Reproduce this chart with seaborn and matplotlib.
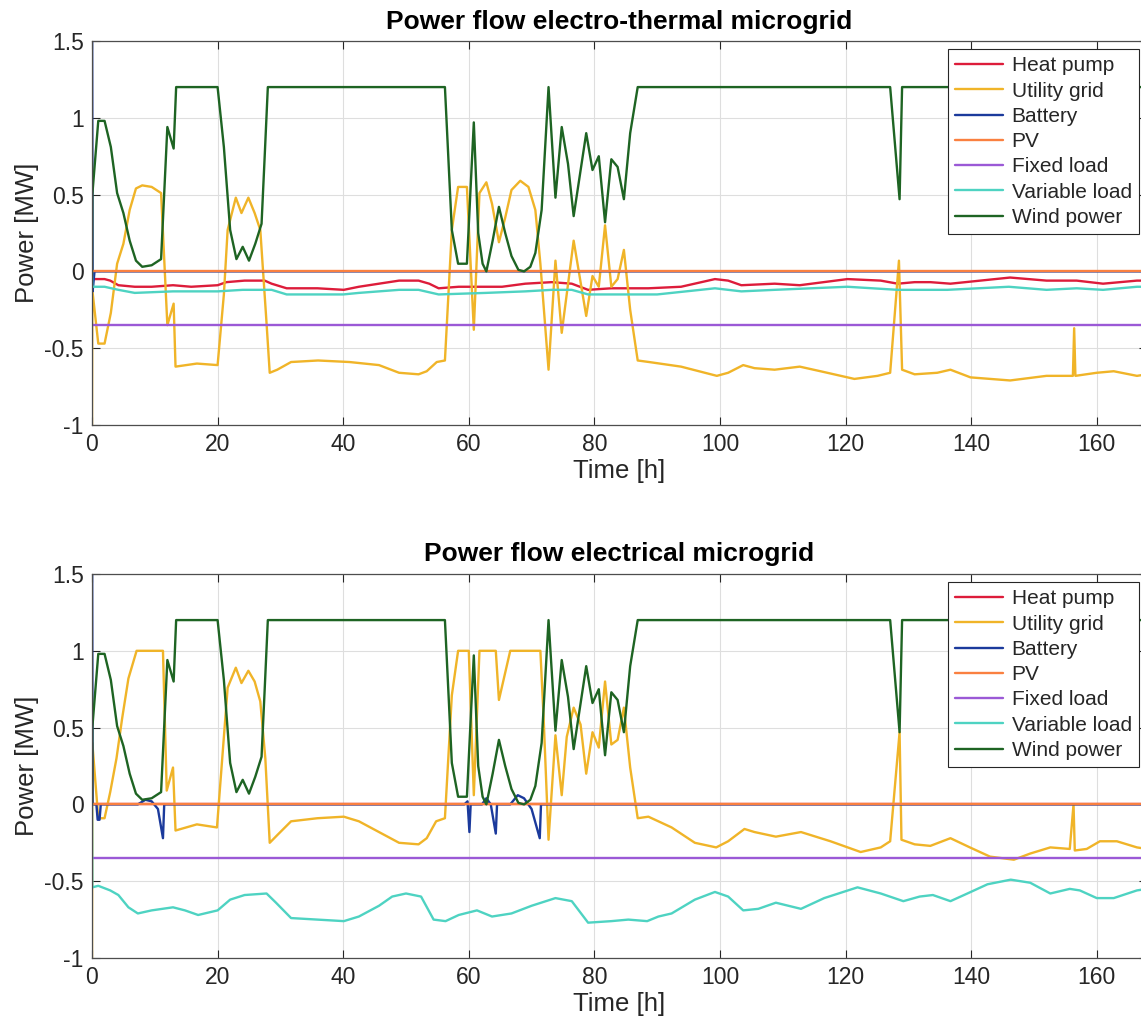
import matplotlib
matplotlib.use("Agg")
import matplotlib.pyplot as plt
import seaborn as sns
import pandas as pd

# ---------------- data (time [h], power [MW]) ----------------
WIND = [(0, 0), (0.05, 0.5), (1, 0.98), (2, 0.98), (3, 0.81), (4, 0.51), (5, 0.38), (6, 0.2),
        (7, 0.07), (8, 0.03), (9.5, 0.04), (11, 0.08), (12, 0.94), (13, 0.80), (13.4, 1.2),
        (20, 1.2), (21, 0.81), (22, 0.27), (23, 0.08), (24, 0.16), (25, 0.07), (26, 0.18),
        (27, 0.31), (27.5, 0.75), (28, 1.2), (56.2, 1.2), (57.3, 0.27), (58.3, 0.05),
        (59.7, 0.05), (60.8, 0.97), (61.5, 0.25), (62.2, 0.05), (62.8, 0.0), (63.8, 0.2),
        (64.8, 0.42), (65.8, 0.25), (66.8, 0.1), (67.9, 0.01), (68.8, 0.0), (69.8, 0.03),
        (70.6, 0.12), (71.6, 0.4), (72.7, 1.2), (73.8, 0.48), (74.8, 0.94), (75.8, 0.7),
        (76.7, 0.36), (78.7, 0.9), (79.7, 0.66), (80.7, 0.75), (81.7, 0.32), (82.7, 0.73),
        (83.7, 0.68), (84.7, 0.47), (85.7, 0.9), (86.9, 1.2), (127.1, 1.2), (128.6, 0.47),
        (129, 1.2), (168, 1.2)]

GRID_ET = [(0, -1), (0.05, -0.12), (1, -0.47), (2, -0.47), (3, -0.27), (4, 0.05), (5, 0.18),
           (6, 0.4), (7, 0.54), (8, 0.56), (9.5, 0.55), (11, 0.51), (12, -0.35), (13, -0.21),
           (13.3, -0.62), (16.7, -0.6), (20, -0.61), (21, -0.15), (21.6, 0.27), (22.9, 0.48),
           (23.8, 0.38), (24.9, 0.48), (25.9, 0.38), (26.8, 0.27), (27.8, -0.34), (28.3, -0.66),
           (29.5, -0.64), (31.7, -0.59), (36, -0.58), (41, -0.59), (45.7, -0.61), (48.9, -0.66),
           (52, -0.67), (53.3, -0.65), (54.9, -0.59), (56.2, -0.58), (57.3, 0.27), (58.3, 0.55),
           (59.7, 0.55), (60.8, -0.38), (61.7, 0.51), (62.8, 0.58), (63.7, 0.44), (64.8, 0.19),
           (65.8, 0.35), (66.8, 0.53), (68.2, 0.59), (69.5, 0.55), (70.6, 0.4), (71.4, 0.05),
           (72.7, -0.64), (73.8, 0.07), (74.8, -0.4), (76.7, 0.2), (78.7, -0.29), (79.7, -0.03),
           (80.7, -0.1), (81.7, 0.3), (82.7, -0.1), (83.7, -0.05), (84.7, 0.14), (85.7, -0.25),
           (86.9, -0.58), (88.7, -0.59), (93.8, -0.62), (99.5, -0.68), (101.3, -0.66),
           (103.7, -0.61), (105.5, -0.63), (108.7, -0.64), (112.7, -0.62), (116, -0.65),
           (121.4, -0.70), (125.1, -0.68), (127.1, -0.66), (128.5, 0.07), (129, -0.64),
           (131, -0.67), (134.6, -0.66), (136.7, -0.64), (139.9, -0.69), (146.2, -0.71),
           (152, -0.68), (156.2, -0.68), (156.4, -0.37), (156.6, -0.68), (160, -0.66),
           (162.7, -0.65), (166.4, -0.68), (168, -0.67)]

HEATPUMP_ET = [(0, -0.05), (2, -0.05), (2.9, -0.06), (4.2, -0.09), (6.8, -0.1), (9.5, -0.1),
               (12.9, -0.09), (15.8, -0.1), (20, -0.09), (21.4, -0.07), (24.3, -0.06),
               (27.5, -0.06), (28.6, -0.08), (31, -0.11), (35.9, -0.11), (40.1, -0.12),
               (42.5, -0.1), (45.7, -0.08), (48.9, -0.06), (52, -0.06), (53.7, -0.08),
               (55.2, -0.11), (58.4, -0.1), (62.7, -0.1), (65.3, -0.1), (69, -0.08),
               (73.2, -0.07), (76.4, -0.08), (79, -0.12), (82.7, -0.11), (88.6, -0.11),
               (93.8, -0.1), (99.2, -0.05), (101.3, -0.06), (103.4, -0.09), (108.7, -0.08),
               (112.7, -0.09), (120.3, -0.05), (125.6, -0.06), (128.3, -0.08), (131, -0.07),
               (133.5, -0.07), (136.7, -0.08), (146.2, -0.04), (152, -0.06), (156.8, -0.06),
               (161, -0.08), (166.4, -0.06), (168, -0.06)]

VARLOAD_ET = [(0, 0), (0.05, -0.1), (2, -0.1), (4.2, -0.12), (6.8, -0.14), (12.9, -0.13),
              (20, -0.13), (24, -0.12), (28.6, -0.12), (31, -0.15), (40, -0.15), (42.5, -0.14),
              (48.9, -0.12), (52, -0.12), (55.2, -0.15), (62.7, -0.14), (69, -0.13),
              (73.2, -0.12), (76.4, -0.12), (79, -0.15), (90, -0.15), (99.2, -0.11),
              (103.4, -0.13), (108.7, -0.12), (120.3, -0.1), (128.3, -0.12), (136.2, -0.12),
              (146, -0.1), (152, -0.12), (156.8, -0.11), (161, -0.12), (166.4, -0.1), (168, -0.1)]

BATTERY_ET = [(0, 2.0), (0.1, -0.13), (0.4, 0), (168, 0)]

GRID_EL = [(0, -1), (0.05, 0.4), (1, -0.09), (2, -0.09), (2.9, 0.08), (3.9, 0.3), (4.8, 0.56),
           (5.8, 0.82), (7.1, 1.0), (11.3, 1.0), (11.9, 0.09), (12.9, 0.24), (13.3, -0.17),
           (16.7, -0.13), (19.9, -0.15), (21.6, 0.76), (22.9, 0.89), (23.8, 0.79), (24.9, 0.87),
           (25.9, 0.8), (26.8, 0.67), (27.6, 0.3), (28.3, -0.25), (29.5, -0.2), (31.7, -0.11),
           (35.9, -0.09), (40.1, -0.08), (42.5, -0.11), (45.7, -0.18), (48.9, -0.25),
           (52, -0.26), (53.3, -0.22), (54.8, -0.11), (56.2, -0.09), (57.3, 0.71), (58.3, 1.0),
           (60, 1.0), (60.8, 0.06), (61.7, 1.0), (64.3, 1.0), (64.8, 0.68), (66.6, 1.0),
           (71.4, 1.0), (71.9, 0.58), (72.7, -0.23), (73.8, 0.45), (74.8, 0.06), (75.6, 0.44),
           (76.7, 0.63), (77.8, 0.52), (78.7, 0.2), (79.7, 0.47), (80.7, 0.37), (81.7, 0.8),
           (82.7, 0.39), (83.7, 0.42), (84.7, 0.63), (85.7, 0.24), (86.9, -0.09), (88.6, -0.08),
           (92.3, -0.15), (96, -0.25), (99.4, -0.28), (101.3, -0.24), (103.9, -0.16),
           (105.5, -0.18), (108.9, -0.21), (112.9, -0.18), (117.6, -0.24), (122.4, -0.31),
           (125.6, -0.28), (127.1, -0.24), (128.6, 0.47), (128.9, -0.23), (131, -0.26),
           (133.5, -0.27), (136.7, -0.22), (139.8, -0.28), (143, -0.34), (146.8, -0.36),
           (149.4, -0.32), (152.6, -0.28), (155.7, -0.29), (156.3, 0.0), (156.5, -0.3),
           (158.4, -0.29), (160.5, -0.24), (163.2, -0.24), (166.4, -0.28), (168, -0.29)]

VARLOAD_EL = [(0, 0), (0.05, -0.54), (1, -0.53), (2.9, -0.56), (4.2, -0.59), (5.8, -0.67),
              (7.3, -0.71), (9.5, -0.69), (12.9, -0.67), (14.8, -0.69), (16.9, -0.72),
              (20, -0.69), (22, -0.62), (24.3, -0.59), (27.8, -0.58), (29.3, -0.64),
              (31.7, -0.74), (35.9, -0.75), (40.1, -0.76), (42.5, -0.73), (45.7, -0.66),
              (47.8, -0.6), (50, -0.58), (52.4, -0.6), (54.4, -0.75), (56.3, -0.76),
              (58.4, -0.72), (61.3, -0.69), (63.7, -0.73), (66.8, -0.71), (70, -0.66),
              (73.8, -0.61), (76.4, -0.63), (79, -0.77), (82.7, -0.76), (85.4, -0.75),
              (88.4, -0.76), (90.2, -0.73), (92.3, -0.71), (96, -0.62), (99.2, -0.57),
              (101.3, -0.6), (103.7, -0.69), (106.1, -0.68), (108.9, -0.64), (112.9, -0.68),
              (116.6, -0.61), (121.9, -0.54), (125.6, -0.58), (129.2, -0.63), (131.8, -0.6),
              (133.9, -0.59), (136.7, -0.63), (139.4, -0.58), (142.6, -0.52), (146.3, -0.49),
              (149.4, -0.51), (152.6, -0.58), (155.7, -0.55), (157.3, -0.56), (160, -0.61),
              (162.7, -0.61), (166.4, -0.56), (168, -0.55)]

BATTERY_EL = [(0, 2.0), (0.1, 0), (0.7, 0), (0.9, -0.1), (1.2, -0.1), (1.4, 0), (7.3, 0),
              (8.5, 0.03), (9.5, 0.02), (10.5, -0.03), (11.3, -0.22), (11.5, 0), (59.3, 0),
              (59.8, 0.02), (60.1, -0.18), (60.3, 0), (62.1, 0), (62.8, 0.04), (63.5, 0.0),
              (64.3, -0.19), (64.5, 0), (66.6, 0), (67.8, 0.06), (68.8, 0.04), (70, -0.03),
              (71.3, -0.22), (71.5, 0), (168, 0)]

HEATPUMP_EL = [(0, 0), (168, 0)]
PV = [(0, 0), (168, 0)]
FIXED_LOAD = [(0, -0.35), (168, -0.35)]

LABELS = ["Heat pump", "Utility grid", "Battery", "PV", "Fixed load", "Variable load", "Wind power"]
COLORS = ["#DD1C3A", "#F0B428", "#1B3A9C", "#FA8040", "#9B59D6", "#4ED3C2", "#1E6423"]
TITLES = ["Power flow electro-thermal microgrid", "Power flow electrical microgrid"]
XTICKS = [0, 20, 40, 60, 80, 100, 120, 140, 160]
YTICKS = [-1, -0.5, 0, 0.5, 1, 1.5]
YTICKLABELS = ["-1", "-0.5", "0", "0.5", "1", "1.5"]

PANELS = [
    [HEATPUMP_ET, GRID_ET, BATTERY_ET, PV, FIXED_LOAD, VARLOAD_ET, WIND],
    [HEATPUMP_EL, GRID_EL, BATTERY_EL, PV, FIXED_LOAD, VARLOAD_EL, WIND],
]

# ---------------- drawing ----------------
sns.set_theme(style="whitegrid")
plt.rcParams['font.family'] = ['Liberation Sans', 'DejaVu Sans']

W, H = 1141, 1027
fig = plt.figure(figsize=(W / 100, H / 100), dpi=100)
fig.patch.set_facecolor("white")

axes_px = [(92, 41, 1147, 425), (92, 574, 1147, 958)]  # left, top, right, bottom

for (l, t, r, b), title, series in zip(axes_px, TITLES, PANELS):
    ax = fig.add_axes([l / W, 1 - b / H, (r - l) / W, (b - t) / H])
    ax.set_facecolor("white")
    for data, lab, col in zip(series, LABELS, COLORS):
        df = pd.DataFrame(data, columns=["t", "p"])
        sns.lineplot(data=df, x="t", y="p", ax=ax, color=col, lw=1.7, label=lab,
                     estimator=None, sort=False)
    ax.set_xlim(0, 168)
    ax.set_ylim(-1, 1.5)
    ax.set_xticks(XTICKS)
    ax.set_yticks(YTICKS)
    ax.set_yticklabels(YTICKLABELS)
    ax.grid(True, color="#dedede", lw=0.8)
    for s in ax.spines.values():
        s.set_color("#4d4d4d")
        s.set_linewidth(0.9)
    ax.tick_params(direction="in", length=6, width=0.8, top=True, right=True,
                   bottom=True, left=True, labelsize=16.5, colors="#262626", pad=6)
    ax.set_xlabel("Time [h]", fontsize=18.5, color="#262626", labelpad=2)
    ax.set_ylabel("Power [MW]", fontsize=18.5, color="#262626", labelpad=4)
    ax.set_title(title, fontsize=19, fontweight="bold", color="black", pad=9)
    leg = ax.legend(loc="upper right",
                    bbox_to_anchor=((1139 - l) / (r - l), 1 - 8 / (b - t)),
                    borderaxespad=0, fontsize=15, frameon=True, fancybox=False,
                    framealpha=1, edgecolor="#262626", handlelength=2.3,
                    handletextpad=0.4, labelspacing=0.3, borderpad=0.35)
    leg.get_frame().set_linewidth(0.8)
    for h in leg.get_lines():
        h.set_linewidth(1.7)

fig.savefig("out.png", dpi=100, facecolor="white")
